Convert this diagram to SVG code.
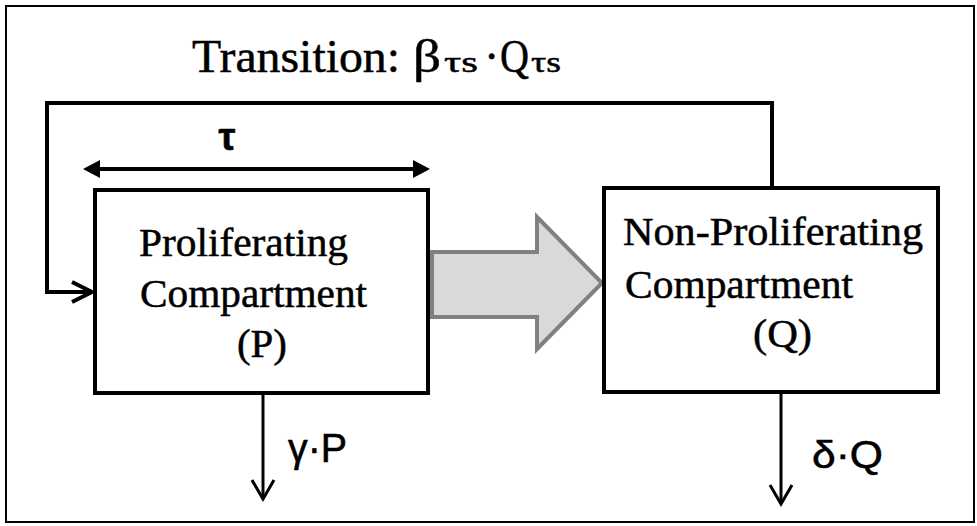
<svg xmlns="http://www.w3.org/2000/svg" width="977" height="526" viewBox="0 0 977 526">
<style>
.serif{font-family:"Liberation Serif","Times New Roman",serif;fill:#000;stroke:#000;stroke-width:0.5}
.sans{font-family:"Liberation Sans",Arial,sans-serif;fill:#000;stroke:#000;stroke-width:0.6}
.box{fill:#fff;stroke:#000;stroke-width:4}
.ln{fill:none;stroke:#000;stroke-linecap:butt;stroke-linejoin:miter}
</style>
<rect x="0" y="0" width="977" height="526" fill="#fff"/>
<rect x="6" y="6" width="968" height="516" fill="none" stroke="#000" stroke-width="2"/>
<text class="serif" y="72" font-size="46"><tspan x="192" textLength="208" lengthAdjust="spacingAndGlyphs">Transition:</tspan><tspan x="413" textLength="28" lengthAdjust="spacingAndGlyphs">β</tspan><tspan x="444" font-size="30" textLength="34" lengthAdjust="spacingAndGlyphs">τs</tspan><tspan x="484">·</tspan><tspan x="500" textLength="29" lengthAdjust="spacingAndGlyphs">Q</tspan><tspan x="531" font-size="30" textLength="30" lengthAdjust="spacingAndGlyphs">τs</tspan></text>
<g id="connectors">
  <polyline class="ln" stroke-width="4" points="772,188 772,103 47,103 47,292 92,292"/>
  <polyline class="ln" stroke-width="4" points="72,282 92,292 72,302"/>
  <line class="ln" stroke-width="4" x1="98" y1="169" x2="415" y2="169"/>
  <polygon points="83,169 100,160 100,178" fill="#000"/>
  <polygon points="430,169 413,160 413,178" fill="#000"/>
  <text class="sans" x="227" y="150" font-size="38" font-weight="bold" text-anchor="middle">τ</text>
  <polygon points="432,252 537,252 537,217 602,283 537,349 537,317 432,317" fill="#d9d9d9" stroke="#808080" stroke-width="4"/>
  <line class="ln" stroke-width="3" x1="263" y1="393" x2="263" y2="498"/>
  <polyline class="ln" stroke-width="3" points="252,480 263,499 274,480"/>
  <text class="sans" x="288" y="462" font-size="40" textLength="59" lengthAdjust="spacingAndGlyphs">γ·P</text>
  <line class="ln" stroke-width="3" x1="781" y1="392" x2="781" y2="503"/>
  <polyline class="ln" stroke-width="3" points="770,485 781,504 792,485"/>
  <text class="sans" x="812" y="468" font-size="38" textLength="71" lengthAdjust="spacingAndGlyphs">δ·Q</text>
</g>
<g id="node-P">
  <rect class="box" x="95" y="190" width="333" height="203"/>
  <text class="serif" x="139" y="256" font-size="40" textLength="209" lengthAdjust="spacingAndGlyphs">Proliferating</text>
  <text class="serif" x="140" y="307" font-size="40" textLength="227" lengthAdjust="spacingAndGlyphs">Compartment</text>
  <text class="serif" x="237" y="357" font-size="40" textLength="50" lengthAdjust="spacingAndGlyphs">(P)</text>
</g>
<g id="node-Q">
  <rect class="box" x="604" y="188" width="334" height="204"/>
  <text class="serif" x="623" y="245" font-size="40" textLength="300" lengthAdjust="spacingAndGlyphs">Non-Proliferating</text>
  <text class="serif" x="625" y="298" font-size="40" textLength="228" lengthAdjust="spacingAndGlyphs">Compartment</text>
  <text class="serif" x="753" y="347" font-size="40" textLength="59" lengthAdjust="spacingAndGlyphs">(Q)</text>
</g>
</svg>
